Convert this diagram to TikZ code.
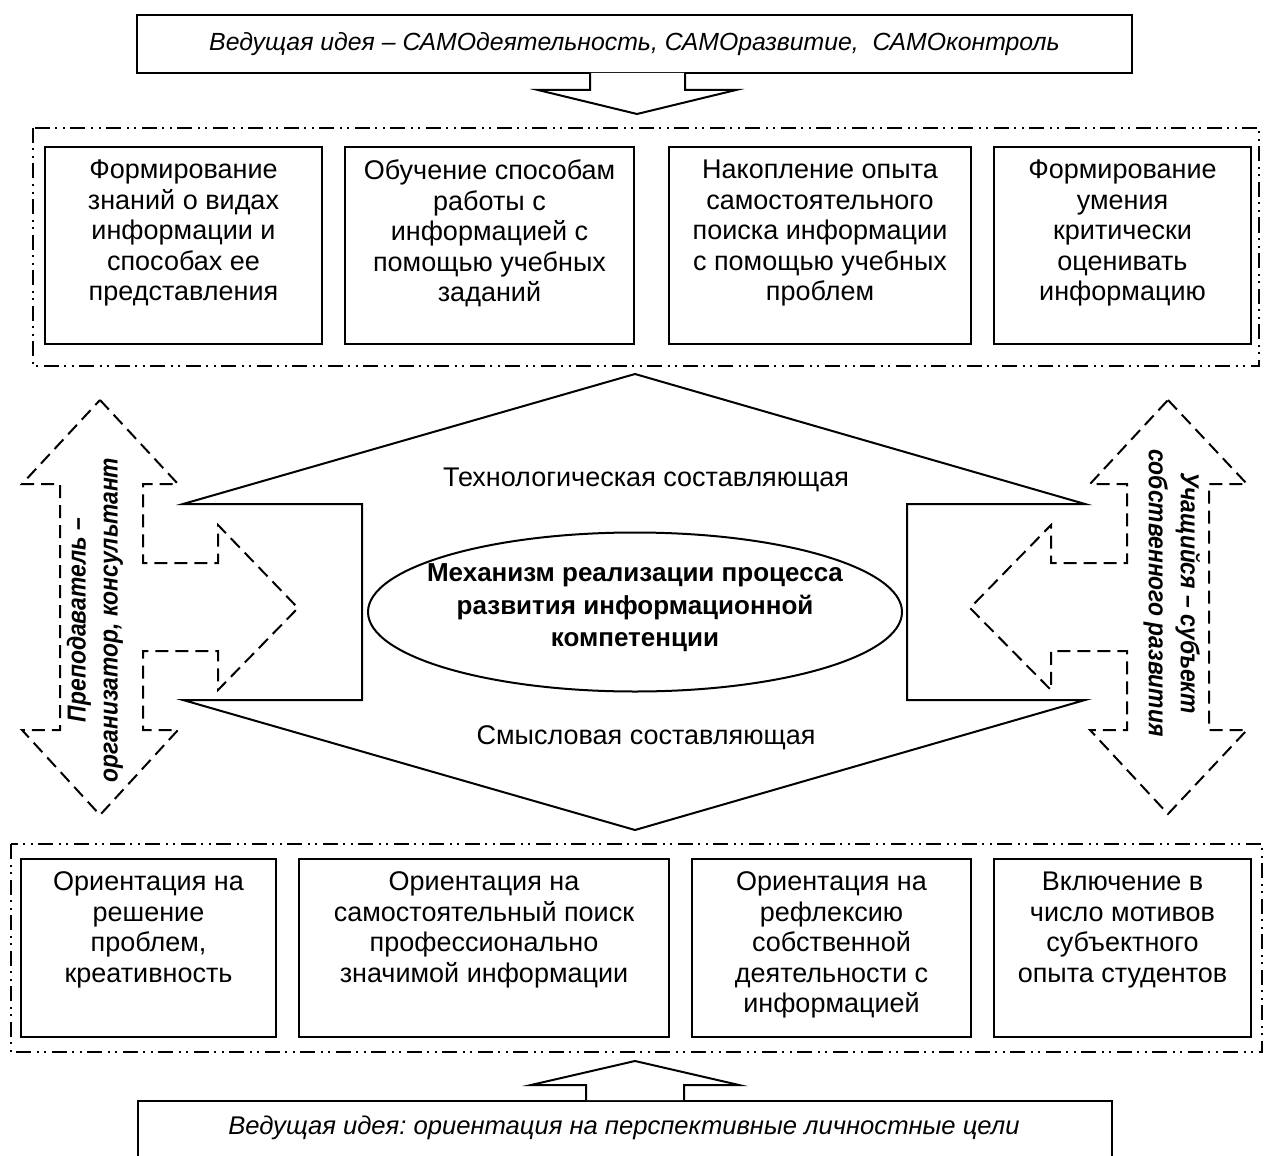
\documentclass[tikz,border=0pt]{standalone}
\usepackage{fontspec}
\setmainfont{Liberation Sans}
\newfontfamily\narrowfont[FakeStretch=0.88]{Liberation Sans}
\usetikzlibrary{positioning,shapes.geometric}
\frenchspacing

\begin{document}
\begin{tikzpicture}[x=0.5pt,y=-0.5pt,line width=1pt,
                    box/.style={draw,rectangle,inner sep=0pt},
                    txt/.style={align=center,inner sep=0pt,font=\fontsize{13.5}{15.25}\selectfont},
                    sidetxt/.style={align=center,inner sep=0pt,font=\narrowfont\fontsize{13}{16}\selectfont\bfseries\itshape},
                    dotframe/.style={draw,line width=0.75pt,dash pattern=on 7.5pt off 2.75pt on 1pt off 2.75pt on 1pt off 2.75pt},
                    dashline/.style={draw,line width=1pt,dash pattern=on 6.5pt off 3.5pt},
                    blockarrow/.style={draw,fill=white,line width=1pt}]

  \useasboundingbox (0,0) rectangle (1264,1156);
  \clip (0,0) rectangle (1264,1156);

  \draw[dotframe] (33,128) rectangle (1259,366);
  \draw[dotframe] (11,844) rectangle (1262,1052);

  \node[box,minimum width=497.5pt,minimum height=29pt,txt,font=\fontsize{12.4}{15}\selectfont\itshape]
       (idea1) at (634.5,44) {Ведущая идея – САМОдеятельность, САМОразвитие,\ \ САМОконтроль};
  \node[box,minimum width=487pt,minimum height=40pt,anchor=north west] (idea2) at (137,1100) {};
  \node[txt,font=\fontsize{12.8}{15}\selectfont\itshape] (idea2t) at (624,1128)
       {Ведущая идея: ориентация на перспективные личностные цели};

  \draw[blockarrow] (590,73) -- (590,90) -- (538,90) -- (637,114) -- (736,90) -- (685,90) -- (685,73);
  \draw[blockarrow] (586,1100) -- (586,1085) -- (531,1085) -- (635,1061) -- (739,1085) -- (684,1085) -- (684,1100);

  \node[box,minimum width=138.5pt,minimum height=98.5pt] (f1) at (183.5,245.5) {};
  \node[box,minimum width=144.5pt,minimum height=98.5pt] (f2) at (489.5,245.5) {};
  \node[box,minimum width=151pt,minimum height=98.5pt]   (f3) at (820,245.5) {};
  \node[box,minimum width=128.5pt,minimum height=98.5pt] (f4) at (1122.5,245.5) {};
  \node[txt,below=6.5pt of f1.north] {Формирование\\знаний о видах\\информации и\\способах ее\\представления};
  \node[txt,below=6.5pt of f2.north] {Обучение способам\\работы с\\информацией с\\помощью учебных\\заданий};
  \node[txt,below=6.5pt of f3.north] {Накопление опыта\\самостоятельного\\поиска информации\\с помощью учебных\\проблем};
  \node[txt,below=6.5pt of f4.north] {Формирование\\умения\\критически\\оценивать\\информацию};

  \node[box,minimum width=127.5pt,minimum height=89pt] (o1) at (148.5,948) {};
  \node[box,minimum width=185pt,minimum height=89pt]   (o2) at (484,948) {};
  \node[box,minimum width=139.5pt,minimum height=89pt] (o3) at (831.5,948) {};
  \node[box,minimum width=128.5pt,minimum height=89pt] (o4) at (1122.5,948) {};
  \node[txt,below=6.5pt of o1.north] {Ориентация на\\решение\\проблем,\\креативность};
  \node[txt,below=6.5pt of o2.north] {Ориентация на\\самостоятельный поиск\\профессионально\\значимой информации};
  \node[txt,below=6.5pt of o3.north] {Ориентация на\\рефлексию\\собственной\\деятельности с\\информацией};
  \node[txt,below=6.5pt of o4.north] {Включение в\\число мотивов\\субъектного\\опыта студентов};

  \draw[blockarrow] (635,374) -- (1085,504) -- (907,504) -- (907,700) -- (1085,700) -- (635,830)
        -- (183,700) -- (362,700) -- (362,504) -- (183,504) -- cycle;
  \node[draw,ellipse,minimum width=267pt,minimum height=79.5pt,inner sep=0pt] (mech) at (635,612) {};
  \node[txt,font=\fontsize{13}{16.25}\selectfont\bfseries] (mecht) at (635,608)
       {Механизм реализации процесса\\развития информационной\\компетенции};
  \node[txt] (tech) at (646,480) {Технологическая составляющая};
  \node[txt] (sense) at (646,738) {Смысловая составляющая};

  \draw[dashline] (100,400) -- (178,484) -- (143,484) -- (143,563) -- (218,563) -- (218,525) -- (298,608)
        -- (218,690) -- (218,651) -- (143,651) -- (143,730) -- (178,730) -- (100,815) -- (22,730)
        -- (60,730) -- (60,484) -- (22,484) -- cycle;
  \draw[dashline] (1168,400) -- (1247,484) -- (1209,484) -- (1209,730) -- (1247,730) -- (1168,814)
        -- (1090,730) -- (1127,730) -- (1127,651) -- (1051,651) -- (1051,690) -- (970,608) -- (1051,525)
        -- (1051,563) -- (1127,563) -- (1127,484) -- (1090,484) -- cycle;

  \node[sidetxt,rotate=90] (teacher) at (95,620) {Преподаватель –\\организатор, консультант};
  \node[sidetxt,rotate=-90] (student) at (1172,593) {Учащийся – субъект\\собственного развития};
\end{tikzpicture}
\end{document}
